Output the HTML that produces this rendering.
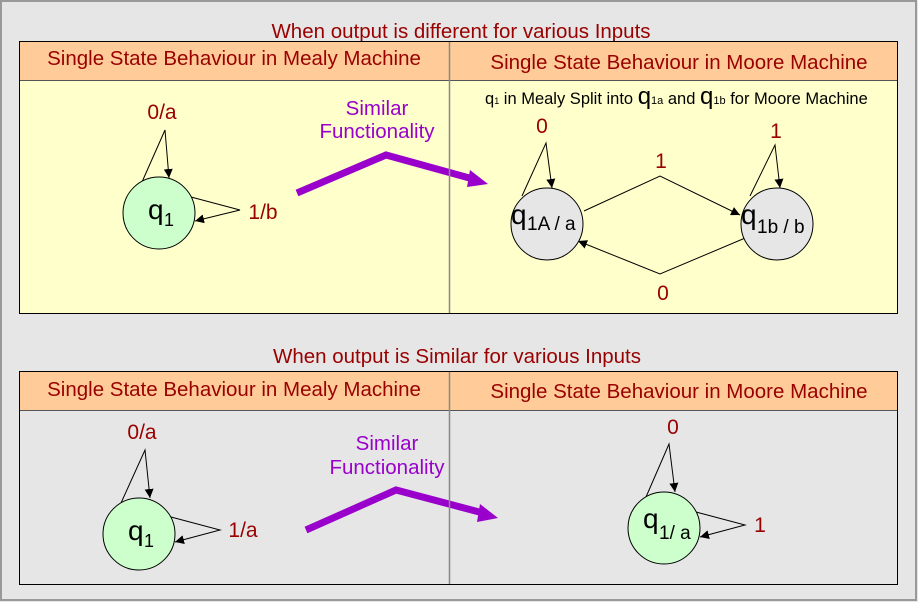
<!DOCTYPE html>
<html><head><meta charset="utf-8"><style>
html,body{margin:0;padding:0;background:#e6e6e6;}
svg{display:block;font-family:"Liberation Sans",Arial,sans-serif;}
</style></head><body>
<svg width="918" height="602" viewBox="0 0 918 602" xmlns="http://www.w3.org/2000/svg">
<defs>
<marker id="ah" viewBox="0 0 10 10" refX="10" refY="5" markerWidth="9" markerHeight="9" markerUnits="userSpaceOnUse" orient="auto"><path d="M0,0 L10,5 L0,10 z" fill="#000"/></marker>
</defs>
<rect x="1" y="1" width="915" height="599" fill="#e6e6e6" stroke="#999" stroke-width="2"/>

<!-- top section -->
<text x="461" y="38" font-size="20.5" fill="#990000" text-anchor="middle">When output is different for various Inputs</text>
<rect x="19.5" y="41.5" width="878" height="272" fill="#ffffcc" stroke="#000"/>
<rect x="20" y="42" width="877" height="38" fill="#ffcc99"/>
<line x1="20" y1="80.5" x2="897" y2="80.5" stroke="#555"/>
<text x="234" y="65" font-size="20.5" fill="#990000" text-anchor="middle">Single State Behaviour in Mealy Machine</text>
<text x="679" y="69" font-size="20.5" fill="#990000" text-anchor="middle">Single State Behaviour in Moore Machine</text>

<!-- mealy top -->
<path d="M142,182 L165,130 L169,178" fill="none" stroke="#000" marker-end="url(#ah)"/>
<path d="M191,197 L240,210 L195,221" fill="none" stroke="#000" marker-end="url(#ah)"/>
<circle cx="159" cy="213" r="36" fill="#ccffcc" stroke="#000"/>
<text x="148" y="219" font-size="28" fill="#000">q</text><text x="164" y="226" font-size="18">1</text>
<text x="162" y="119" font-size="21" fill="#990000" text-anchor="middle">0/a</text>
<text x="263" y="219" font-size="21" fill="#990000" text-anchor="middle">1/b</text>
<text x="377" y="115" font-size="20.5" fill="#9900cc" text-anchor="middle">Similar</text>
<text x="377" y="138" font-size="20.5" fill="#9900cc" text-anchor="middle">Functionality</text>
<polyline points="297,193 386,155 473,179" fill="none" stroke="#9900cc" stroke-width="7"/>
<path d="M470,170 L488,184 L467,187 z" fill="#9900cc"/>

<line x1="449.5" y1="42" x2="449.5" y2="313" stroke="#888" stroke-width="1.5"/>

<!-- moore top -->
<text x="485" y="104" font-size="16.5" fill="#000">q<tspan font-size="9">1</tspan> in Mealy Split into <tspan font-size="24">q</tspan><tspan font-size="11">1a</tspan> and <tspan font-size="24">q</tspan><tspan font-size="11">1b</tspan> for Moore Machine</text>
<path d="M522,196 L546,143 L552,188" fill="none" stroke="#000" marker-end="url(#ah)"/>
<path d="M750,196 L775,145 L780,188" fill="none" stroke="#000" marker-end="url(#ah)"/>
<path d="M584,211 L660,176 L740,215" fill="none" stroke="#000" marker-end="url(#ah)"/>
<path d="M757,233 L660,274 L578,241" fill="none" stroke="#000" marker-end="url(#ah)"/>
<circle cx="547" cy="224" r="36" fill="#e6e6e6" stroke="#000"/>
<circle cx="777" cy="224" r="36" fill="#e6e6e6" stroke="#000"/>
<text x="511" y="224" font-size="28">q</text><text x="527" y="230" font-size="19">1A / a</text>
<text x="741" y="224" font-size="28">q</text><text x="757" y="233" font-size="19">1b / b</text>
<text x="542" y="133" font-size="21" fill="#990000" text-anchor="middle">0</text>
<text x="776" y="138" font-size="21" fill="#990000" text-anchor="middle">1</text>
<text x="661" y="168" font-size="21" fill="#990000" text-anchor="middle">1</text>
<text x="663" y="300" font-size="21" fill="#990000" text-anchor="middle">0</text>

<!-- bottom section -->
<text x="457" y="363" font-size="20.5" fill="#990000" text-anchor="middle">When output is Similar for various Inputs</text>
<rect x="19.5" y="371.5" width="878" height="213" fill="#e6e6e6" stroke="#000"/>
<rect x="20" y="372" width="877" height="38" fill="#ffcc99"/>
<line x1="20" y1="410.5" x2="897" y2="410.5" stroke="#555"/>
<text x="234" y="396" font-size="20.5" fill="#990000" text-anchor="middle">Single State Behaviour in Mealy Machine</text>
<text x="679" y="398" font-size="20.5" fill="#990000" text-anchor="middle">Single State Behaviour in Moore Machine</text>

<path d="M121,503 L145,450 L150,498" fill="none" stroke="#000" marker-end="url(#ah)"/>
<path d="M171,517 L220,530 L175,542" fill="none" stroke="#000" marker-end="url(#ah)"/>
<circle cx="139" cy="534" r="36" fill="#ccffcc" stroke="#000"/>
<text x="128" y="540" font-size="28">q</text><text x="144" y="547" font-size="18">1</text>
<text x="142" y="439" font-size="21" fill="#990000" text-anchor="middle">0/a</text>
<text x="243" y="537" font-size="21" fill="#990000" text-anchor="middle">1/a</text>
<text x="387" y="450" font-size="20.5" fill="#9900cc" text-anchor="middle">Similar</text>
<text x="387" y="474" font-size="20.5" fill="#9900cc" text-anchor="middle">Functionality</text>
<polyline points="306,530 396,490 483,513" fill="none" stroke="#9900cc" stroke-width="7"/>
<path d="M480,504 L498,518 L477,522 z" fill="#9900cc"/>

<line x1="449.5" y1="372" x2="449.5" y2="584" stroke="#888" stroke-width="1.5"/>

<path d="M646,497 L669,444 L675,492" fill="none" stroke="#000" marker-end="url(#ah)"/>
<path d="M696,512 L745,525 L700,537" fill="none" stroke="#000" marker-end="url(#ah)"/>
<circle cx="664" cy="528" r="36" fill="#ccffcc" stroke="#000"/>
<text x="643" y="528" font-size="28">q</text><text x="659" y="539" font-size="19">1/ a</text>
<text x="673" y="434" font-size="21" fill="#990000" text-anchor="middle">0</text>
<text x="760" y="532" font-size="21" fill="#990000" text-anchor="middle">1</text>
</svg>
</body></html>
